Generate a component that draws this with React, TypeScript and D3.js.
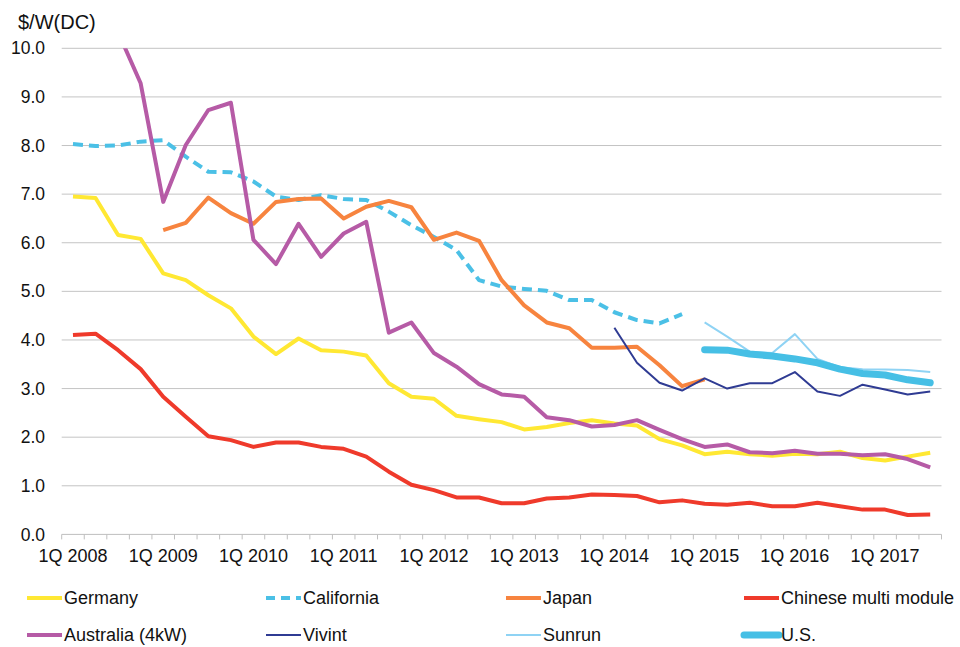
import React from "react";
import * as d3 from "d3";

// quarters 1Q 2008 .. 3Q 2017
const years = [2008, 2009, 2010, 2011, 2012, 2013, 2014, 2015, 2016, 2017];
const quarters = years.flatMap((y) => [1, 2, 3, 4].map((q) => `${q}Q ${y}`)).slice(0, 39);

const yTicks = [0, 1, 2, 3, 4, 5, 6, 7, 8, 9, 10];

// each series: first quarter index + values ($/W DC)
const germanyStart = 0;
const germany = [6.95, 6.92, 6.16, 6.08, 5.37, 5.23, 4.92, 4.65, 4.07, 3.71,
  4.03, 3.79, 3.76, 3.68, 3.11, 2.83, 2.79, 2.44, 2.37, 2.31,
  2.16, 2.21, 2.29, 2.35, 2.28, 2.24, 1.96, 1.83, 1.65, 1.70,
  1.65, 1.62, 1.66, 1.65, 1.70, 1.57, 1.52, 1.60, 1.68];

const californiaStart = 0;
const california = [8.03, 7.99, 8.00, 8.08, 8.11, 7.77, 7.46, 7.45, 7.26, 6.95,
  6.88, 6.98, 6.90, 6.88, 6.64, 6.36, 6.12, 5.85, 5.23, 5.10,
  5.05, 5.01, 4.82, 4.82, 4.57, 4.41, 4.34, 4.53];

const japanStart = 4;
const japan = [6.26, 6.41, 6.93, 6.61, 6.39, 6.84, 6.90, 6.91, 6.50, 6.74,
  6.86, 6.73, 6.06, 6.21, 6.04, 5.23, 4.71, 4.36, 4.24, 3.84,
  3.84, 3.86, 3.48, 3.05, 3.19];

const chinaStart = 0;
const china = [4.10, 4.13, 3.79, 3.40, 2.83, 2.42, 2.02, 1.94, 1.80, 1.89,
  1.89, 1.80, 1.76, 1.60, 1.29, 1.02, 0.91, 0.76, 0.76, 0.64,
  0.64, 0.74, 0.76, 0.82, 0.81, 0.79, 0.66, 0.70, 0.63, 0.61,
  0.65, 0.58, 0.58, 0.65, 0.58, 0.51, 0.51, 0.40, 0.41];

const australiaStart = 2;
const australia = [10.33, 9.28, 6.84, 8.01, 8.73, 8.88, 6.06, 5.56, 6.39, 5.71,
  6.19, 6.43, 4.15, 4.36, 3.73, 3.45, 3.09, 2.88, 2.83, 2.41,
  2.35, 2.22, 2.25, 2.35, 2.15, 1.96, 1.80, 1.85, 1.69, 1.67,
  1.72, 1.66, 1.66, 1.63, 1.65, 1.55, 1.38];

const vivintStart = 24;
const vivint = [4.25, 3.53, 3.12, 2.96, 3.21, 3.00, 3.11, 3.11, 3.34, 2.94, 2.85, 3.08, 2.98, 2.88, 2.94];

const sunrunStart = 28;
const sunrun = [4.36, 4.07, 3.76, 3.73, 4.12, 3.61, 3.44, 3.40, 3.39, 3.38, 3.34];

const usStart = 28;
const us = [3.80, 3.79, 3.71, 3.67, 3.61, 3.53, 3.40, 3.31, 3.28, 3.18, 3.12];

const series = [
  { name: "Germany", start: germanyStart, values: germany, color: "#FFE833", width: 4, dash: "" },
  { name: "California", start: californiaStart, values: california, color: "#4BC0E6", width: 4, dash: "10,6" },
  { name: "Japan", start: japanStart, values: japan, color: "#F7843F", width: 4, dash: "" },
  { name: "Chinese multi module", start: chinaStart, values: china, color: "#EF3A2B", width: 4, dash: "" },
  { name: "Australia (4kW)", start: australiaStart, values: australia, color: "#B65BA6", width: 4, dash: "" },
  { name: "Vivint", start: vivintStart, values: vivint, color: "#2F3B93", width: 2, dash: "" },
  { name: "Sunrun", start: sunrunStart, values: sunrun, color: "#8FD3F4", width: 2, dash: "" },
  { name: "U.S.", start: usStart, values: us, color: "#46BFE5", width: 7, dash: "" },
];

const W = 960, H = 647;
const left = 61.7, right = 941.5, top = 48.3, bottom = 534.4;
const font = "'Liberation Sans', Arial, sans-serif";

export default function App() {
  const x = d3.scaleBand<string>().domain(quarters).range([left, right]).padding(0);
  const y = d3.scaleLinear().domain([0, 10]).range([bottom, top]);
  const line = d3.line<[number, number]>()
    .x((d) => (x(quarters[d[0]]) ?? 0) + x.bandwidth() / 2)
    .y((d) => y(d[1]))
    .curve(d3.curveLinear);

  const legendCols = [27, 266, 506, 744];
  const legendRows = [598, 635];

  return (
    <svg width={W} height={H} style={{ position: "absolute", left: 0, top: 0 }} fontFamily={font}>
      <defs>
        <clipPath id="plot">
          <rect x={left} y={top} width={right - left} height={bottom - top} />
        </clipPath>
      </defs>
      <text x={18} y={29} fontSize={20} fill="#111">$/W(DC)</text>
      {yTicks.map((t) => (
        <g key={t}>
          {t > 0 && <line x1={left} x2={right} y1={y(t)} y2={y(t)} stroke="#c4c4c4" strokeWidth={1} />}
          <text x={45} y={y(t)} dy="0.35em" textAnchor="end" fontSize={17.5} fill="#111">
            {d3.format(".1f")(t)}
          </text>
        </g>
      ))}
      <line x1={left} x2={right} y1={bottom} y2={bottom} stroke="#bfbfbf" strokeWidth={1} />
      {d3.range(quarters.length + 1).map((i) => {
        const xx = left + i * x.bandwidth();
        return <line key={i} x1={xx} x2={xx} y1={bottom} y2={bottom + 5} stroke="#bfbfbf" strokeWidth={1} />;
      })}
      {quarters.map((q, i) =>
        i % 4 === 0 ? (
          <text key={q} x={(x(q) ?? 0) + x.bandwidth() / 2} y={562} textAnchor="middle" fontSize={18} fill="#111">
            {q}
          </text>
        ) : null
      )}
      <g clipPath="url(#plot)">
        {series.map((s) => (
          <path
            key={s.name}
            d={line(s.values.map((v, i) => [s.start + i, v] as [number, number])) ?? ""}
            fill="none"
            stroke={s.color}
            strokeWidth={s.width}
            strokeDasharray={s.dash || undefined}
            strokeLinejoin="round"
            strokeLinecap={s.name === "U.S." ? "round" : "butt"}
          />
        ))}
      </g>
      {series.map((s, i) => {
        const lx = legendCols[i % 4];
        const ly = legendRows[Math.floor(i / 4)];
        return (
          <g key={s.name}>
            <line x1={lx} x2={lx + 35} y1={ly} y2={ly} stroke={s.color} strokeWidth={s.width}
              strokeDasharray={s.dash ? "9,6" : undefined} strokeLinecap={s.name === "U.S." ? "round" : "butt"} />
            <text x={lx + 37} y={ly} dy="0.35em" fontSize={18} fill="#111">{s.name}</text>
          </g>
        );
      })}
    </svg>
  );
}
